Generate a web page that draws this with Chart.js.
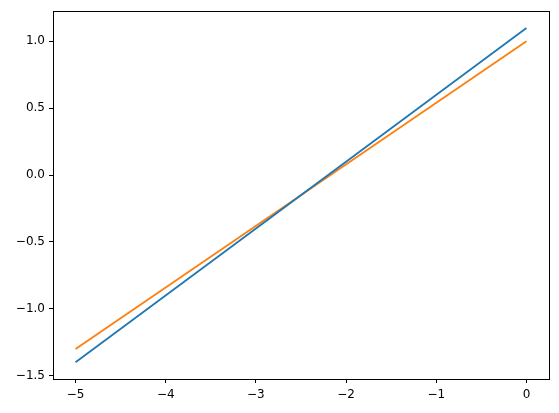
<!DOCTYPE html>
<html>
<head>
<meta charset="utf-8">
<script src="https://cdn.jsdelivr.net/npm/chart.js@4/dist/chart.umd.min.js"></script>
<style>
    html, body { margin: 0; padding: 0; background: #fff; }
    canvas { display: block; }
</style>
</head>
<body>
<canvas id="lineChart" width="559" height="413"></canvas>
<script>
// Chart data
const xValues = [-5, 0];
const blueValues = [-1.4, 1.1];
const orangeValues = [-1.3, 1.0];
const xTicks = [-5, -4, -3, -2, -1, 0];
const yTicks = [-1.5, -1.0, -0.5, 0.0, 0.5, 1.0];

// Format numbers with a real minus sign, like matplotlib
function fmt(value, digits) {
    const s = Math.abs(value).toFixed(digits);
    return value < 0 ? '\u2212' + s : s;
}

function toPoints(ys) {
    return xValues.map((x, i) => ({ x: x, y: ys[i] }));
}

// Draw the box around the plot area
const frameBox = {
    id: 'frameBox',
    afterDraw(chart) {
        const { ctx, chartArea } = chart;
        ctx.save();
        ctx.strokeStyle = '#000';
        ctx.lineWidth = 1;
        ctx.strokeRect(Math.round(chartArea.left) + 0.5, Math.round(chartArea.top) + 0.5,
            Math.round(chartArea.right - chartArea.left), Math.round(chartArea.bottom - chartArea.top));
        ctx.restore();
    }
};

const tickFont = { family: 'DejaVu Sans', size: 12 };

new Chart(document.getElementById('lineChart').getContext('2d'), {
    type: 'scatter',
    data: {
        datasets: [
            {
                data: toPoints(blueValues),
                showLine: true,
                borderColor: '#1f77b4',
                borderWidth: 1.8,
                pointRadius: 0
            },
            {
                data: toPoints(orangeValues),
                showLine: true,
                borderColor: '#ff7f0e',
                borderWidth: 1.8,
                pointRadius: 0
            }
        ]
    },
    options: {
        responsive: false,
        animation: false,
        layout: { padding: { top: 11, right: 10, left: 0, bottom: 0 } },
        plugins: {
            legend: { display: false },
            tooltip: { enabled: false }
        },
        scales: {
            x: {
                type: 'linear',
                min: -5.25,
                max: 0.25,
                afterBuildTicks: scale => { scale.ticks = xTicks.map(v => ({ value: v })); },
                afterFit: scale => { scale.height = 34; },
                border: { display: false },
                grid: { drawOnChartArea: false, drawTicks: true, tickLength: 4, color: '#000' },
                ticks: {
                    color: '#000',
                    font: tickFont,
                    padding: 5,
                    maxRotation: 0,
                    callback: v => fmt(v, 0)
                }
            },
            y: {
                type: 'linear',
                min: -1.525,
                max: 1.225,
                afterBuildTicks: scale => { scale.ticks = yTicks.map(v => ({ value: v })); },
                afterFit: scale => { scale.width = 53; },
                border: { display: false },
                grid: { drawOnChartArea: false, drawTicks: true, tickLength: 4, color: '#000' },
                ticks: {
                    color: '#000',
                    font: tickFont,
                    padding: 4,
                    callback: v => fmt(v, 1)
                }
            }
        }
    },
    plugins: [frameBox]
});
</script>
</body>
</html>
